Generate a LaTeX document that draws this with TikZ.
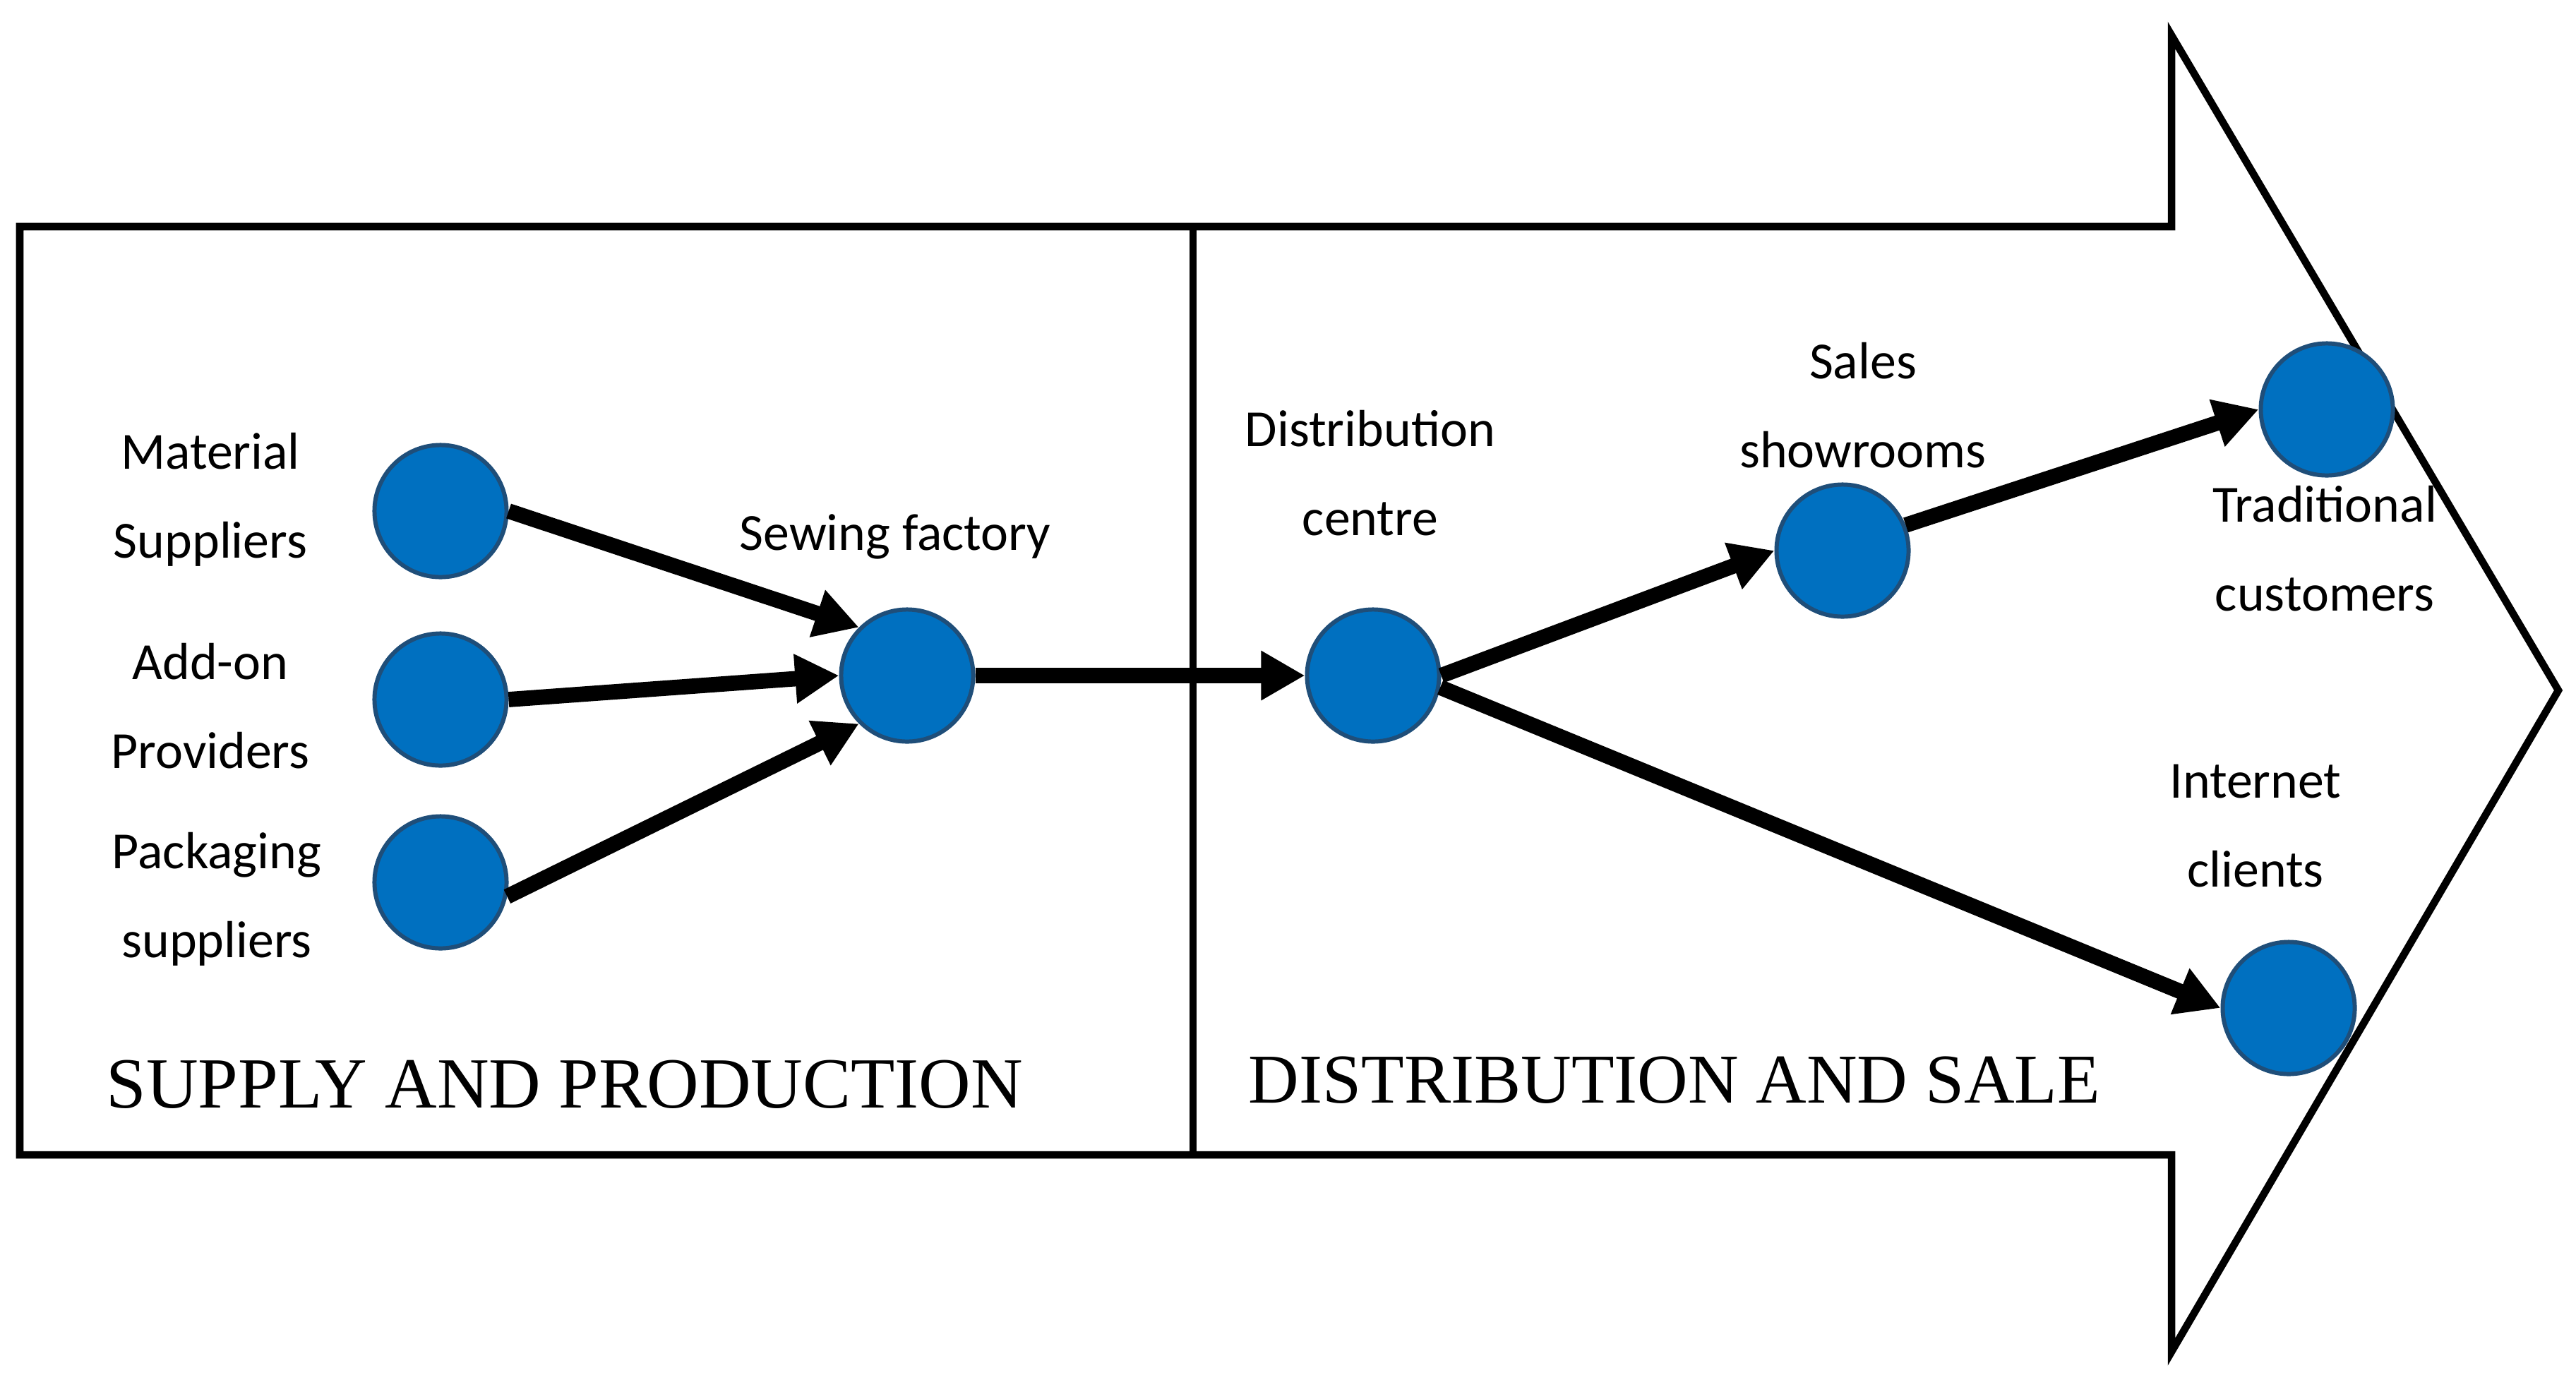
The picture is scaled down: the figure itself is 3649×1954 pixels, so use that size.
\documentclass[tikz,border=0pt]{standalone}
\usepackage{fontspec}
\setmainfont{Carlito}
\newfontfamily\titlefont{Liberation Serif}
\usetikzlibrary{arrows.meta}
\definecolor{nodefill}{HTML}{0070C0}
\definecolor{nodeborder}{HTML}{1F4E79}
\begin{document}
\begin{tikzpicture}[x=0.01cm,y=-0.01cm,
  dot/.style={circle,fill=nodefill,draw=nodeborder,line width=1.7pt,minimum size=1.87cm,inner sep=0pt},
  lbl/.style={align=center,font=\fontsize{21}{35.7}\selectfont,inner sep=0pt},
  ttl/.style={font=\titlefont\fontsize{29}{34}\selectfont,inner sep=0pt},
  flow/.style={line width=6.2pt,-{Triangle[length=0.62cm,width=0.66cm]}},
  outline/.style={line width=3pt,line join=miter}]
\useasboundingbox (0,0) rectangle (3649,1954);
% big arrow outline
\draw[outline] (28,321) -- (3076,321) -- (3076,50) -- (3624,978) -- (3076,1915) -- (3076,1636) -- (28,1636) -- cycle;
\draw[outline] (1690,321) -- (1690,1636);
% nodes
\node[dot] (mat) at (624,724) {};
\node[dot] (add) at (624,991) {};
\node[dot] (pack) at (624,1250) {};
\node[dot] (sew) at (1285,957) {};
\node[dot] (dist) at (1945,957) {};
\node[dot] (sales) at (2610,780) {};
\node[dot] (trad) at (3296,580) {};
\node[dot] (inet) at (3242,1428) {};
% labels
\node[lbl] (lmat) at (298,708) {Material\\Suppliers};
\node[lbl] (ladd) at (298,1000) {Add-on\\Providers};
\node[lbl] (lpack) at (307,1274) {Packaging\\suppliers};
\node[lbl] (lsew) at (1268,760) {Sewing factory};
\node[lbl] (ldist) at (1941,670) {Distribution\\centre};
\node[lbl] (lsales) at (2639,574) {Sales\\showrooms};
\node[lbl] (ltrad) at (3293,777) {Traditional\\customers};
\node[lbl] (linet) at (3195,1170) {Internet\\clients};
\node[ttl] (t1) at (800,1536) {SUPPLY AND PRODUCTION};
\node[ttl,font=\titlefont\fontsize{28.2}{34}\selectfont] (t2) at (2372,1530) {DISTRIBUTION AND SALE};
% connectors
\draw[flow] (mat.east) -- (sew.135);
\draw[flow] (add.east) -- (sew.west);
\draw[flow] (pack.-12) -- (sew.225);
\draw[flow] (sew) -- (dist);
\draw[flow] (dist.east) -- (sales.west);
\draw[flow] (sales.22) -- (trad.west);
\draw[flow] (dist.-10) -- (inet.west);
\end{tikzpicture}
\end{document}
